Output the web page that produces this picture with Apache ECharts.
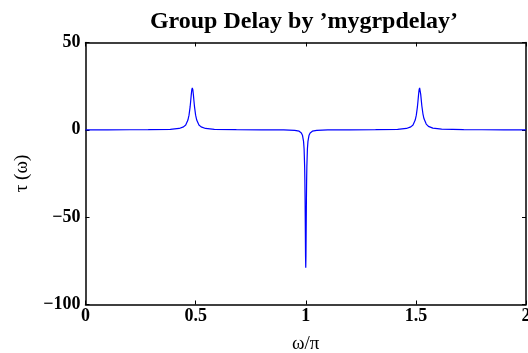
<!DOCTYPE html>
<html>
<head>
<meta charset="utf-8">
<script src="https://cdn.jsdelivr.net/npm/echarts@6/dist/echarts.min.js"></script>
<style>
  html, body { margin: 0; padding: 0; background: #fff; }
  #chart { width: 528px; height: 353px; }
</style>
</head>
<body>
<div id="chart"></div>
<script>
// Normalised frequency (ω/π) and group delay τ(ω) in samples
const omega = [
  0, 0.1, 0.2, 0.285, 0.385, 0.425, 0.445, 0.455, 0.465, 0.47, 0.475, 0.4775,
  0.48, 0.4825, 0.485, 0.4875, 0.49, 0.4925, 0.495, 0.5, 0.505, 0.515, 0.525,
  0.545, 0.585, 0.685, 0.8, 0.9, 0.95, 0.97, 0.98, 0.985, 0.99, 0.9925, 0.995,
  0.996, 0.997, 0.998, 0.999, 1.0, 1.001, 1.002, 1.003, 1.004, 1.005, 1.0075,
  1.01, 1.015, 1.02, 1.03, 1.05, 1.1, 1.2, 1.317, 1.417, 1.457, 1.477, 1.487,
  1.497, 1.502, 1.507, 1.5095, 1.512, 1.5145, 1.517, 1.5195, 1.522, 1.5245,
  1.527, 1.532, 1.537, 1.547, 1.557, 1.577, 1.617, 1.717, 1.8, 1.9, 2.0
];
const tau = [
  0.02, 0.03, 0.05, 0.07, 0.29, 0.78, 1.7, 2.8, 5.6, 8.4, 13.1, 16.4,
  19.9, 22.8, 24.0, 22.8, 19.9, 16.4, 13.1, 8.4, 5.6, 2.8, 1.7,
  0.78, 0.29, 0.07, 0.0, -0.07, -0.29, -0.79, -1.76, -3.08, -6.6, -11.0, -21.2,
  -28.8, -40.0, -55.4, -72.0, -79.0, -72.0, -55.4, -40.0, -28.8, -21.2, -11.0,
  -6.6, -3.08, -1.76, -0.79, -0.29, -0.07, 0.0, 0.07, 0.29, 0.78, 1.7, 2.8,
  5.6, 8.4, 13.1, 16.4, 19.9, 22.8, 24.0, 22.9, 20.3, 17.0,
  13.8, 9.2, 6.3, 3.3, 2.0, 0.95, 0.36, 0.09, 0.05, 0.03, 0.02
];
const xTicks = [0, 0.5, 1, 1.5, 2];
const yTicks = [-100, -50, 0, 50];

const titleText = 'Group Delay by \u2019mygrpdelay\u2019';
const serif = '"Liberation Serif", "Times New Roman", serif';

const points = omega.map((w, i) => [w, tau[i]]);

const chart = echarts.init(document.getElementById('chart'), null, { renderer: 'canvas' });

const boxLine = { show: true, onZero: false, lineStyle: { color: '#000', width: 1.5 } };
const innerTick = { show: true, inside: true, length: 4, lineStyle: { color: '#000', width: 1 } };
const tickFont = { color: '#000', fontFamily: serif, fontWeight: 'bold', fontSize: 18 };
const minusSign = v => String(v).replace('-', '\u2212');

chart.setOption({
  animation: false,
  backgroundColor: '#fff',
  title: {
    text: titleText,
    left: 299,
    top: 5,
    textAlign: 'center',
    textStyle: { color: '#000', fontFamily: serif, fontWeight: 'bold', fontSize: 24 }
  },
  grid: {
    left: 85.5, right: 2, top: 42.5, bottom: 48.5,
    containLabel: false, outerBoundsMode: 'none'
  },
  xAxis: [
    {
      type: 'value', position: 'bottom',
      min: xTicks[0], max: xTicks[xTicks.length - 1], interval: 0.5,
      axisLine: boxLine, axisTick: innerTick, splitLine: { show: false },
      axisLabel: Object.assign({ margin: 3, formatter: v => String(v) }, tickFont),
      name: '\u03c9/\u03c0', nameLocation: 'middle', nameGap: 30,
      nameTextStyle: { color: '#000', fontFamily: serif, fontSize: 19 }
    },
    {
      type: 'value', position: 'top',
      min: xTicks[0], max: xTicks[xTicks.length - 1], interval: 0.5,
      axisLine: boxLine, axisTick: innerTick, splitLine: { show: false },
      axisLabel: { show: false }
    }
  ],
  yAxis: [
    {
      type: 'value', position: 'left',
      min: yTicks[0], max: yTicks[yTicks.length - 1], interval: 50,
      axisLine: boxLine, axisTick: innerTick, splitLine: { show: false },
      axisLabel: Object.assign({ margin: 5, formatter: minusSign }, tickFont),
      name: '\u03c4 (\u03c9)', nameLocation: 'middle', nameGap: 54,
      nameTextStyle: { color: '#000', fontFamily: serif, fontSize: 19 }
    },
    {
      type: 'value', position: 'right',
      min: yTicks[0], max: yTicks[yTicks.length - 1], interval: 50,
      axisLine: boxLine, axisTick: innerTick, splitLine: { show: false },
      axisLabel: { show: false }
    }
  ],
  series: [
    {
      type: 'line',
      data: points,
      xAxisIndex: 0, yAxisIndex: 0,
      showSymbol: false,
      smooth: false,
      clip: true,
      lineStyle: { color: '#0000ff', width: 1.2 }
    }
  ]
});
</script>
</body>
</html>
